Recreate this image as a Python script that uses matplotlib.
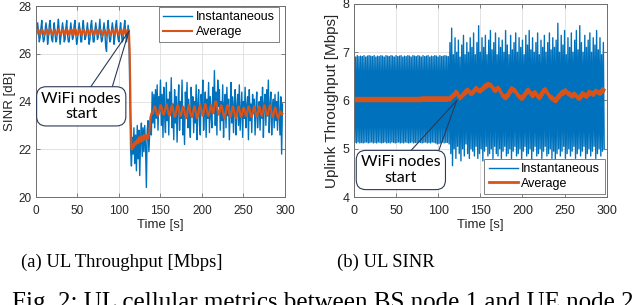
import numpy as np
import matplotlib
matplotlib.use("Agg")
import matplotlib.pyplot as plt

# ---- data (one sample per second) ----
# (a) left panel: SINR [dB]
sinr_inst = [
    26.6, 27.0, 27.3, 26.9, 26.5, 26.7, 27.1, 27.4, 26.8, 26.5,
    26.6, 27.0, 27.3, 27.0, 26.4, 26.7, 27.2, 27.4, 26.9, 26.6,
    26.5, 27.0, 27.3, 26.8, 26.5, 26.6, 27.1, 27.45, 26.9, 26.4,
    26.7, 27.0, 27.3, 27.0, 26.5, 26.6, 27.1, 27.4, 26.8, 26.5,
    26.5, 27.0, 27.3, 26.9, 26.6, 26.7, 27.2, 27.4, 26.8, 26.4,
    26.6, 27.0, 27.3, 27.0, 26.5, 26.5, 27.1, 27.4, 26.9, 26.6,
    26.7, 27.0, 27.3, 26.8, 26.4, 26.6, 27.2, 27.4, 26.9, 26.5,
    26.5, 27.0, 27.3, 27.0, 26.6, 26.7, 27.1, 27.45, 26.8, 26.5,
    26.6, 27.0, 27.3, 26.9, 26.3, 26.1, 27.1, 27.4, 26.8, 26.5,
    26.6, 27.0, 27.3, 27.0, 26.4, 26.7, 27.2, 27.4, 26.9, 26.6,
    26.5, 27.0, 27.3, 26.8, 26.5, 26.6, 27.1, 27.4, 26.9, 26.5,
    26.7, 27.2, 26.8, 24.5, 22.0, 21.3, 22.5, 21.8, 22.9, 21.4,
    22.6, 21.1, 23.0, 21.6, 22.8, 20.9, 22.4, 23.1, 21.7, 22.9,
    21.9, 23.0, 22.1, 20.4, 22.8, 23.2, 21.9, 22.7, 23.4, 22.6,
    24.4, 23.1, 24.3, 22.9, 24.5, 23.3, 24.7, 22.8, 24.2, 23.6,
    24.9, 23.0, 24.3, 22.5, 24.6, 23.4, 22.7, 24.8, 23.2, 24.1,
    22.6, 24.4, 23.5, 25.0, 22.9, 23.9, 22.4, 24.5, 23.1, 24.2,
    22.3, 23.8, 24.7, 22.8, 24.0, 23.3, 24.9, 22.6, 23.7, 22.2,
    24.4, 23.5, 24.8, 22.9, 24.1, 23.2, 22.5, 24.6, 23.4, 24.2,
    22.7, 24.0, 23.1, 24.7, 22.4, 23.9, 24.5, 23.0, 22.6, 24.3,
    23.6, 24.9, 22.8, 23.7, 24.4, 22.5, 24.1, 23.3, 24.8, 22.7,
    24.2, 23.4, 22.9, 24.6, 23.5, 25.3, 23.0, 24.4, 22.6, 24.9,
    23.8, 24.5, 22.8, 24.0, 23.2, 24.7, 22.5, 23.9, 24.3, 22.9,
    24.6, 23.4, 24.1, 22.4, 23.7, 24.8, 23.1, 24.2, 22.7, 23.9,
    24.5, 22.6, 23.8, 24.3, 23.0, 24.7, 22.8, 23.6, 24.4, 22.5,
    24.0, 23.3, 24.6, 22.9, 23.8, 24.2, 22.4, 24.5, 23.2, 23.9,
    22.7, 24.3, 23.5, 24.1, 22.6, 23.7, 24.4, 22.9, 23.6, 24.0,
    22.8, 24.2, 23.3, 24.6, 22.5, 23.9, 24.3, 23.0, 24.5, 23.4,
    24.9, 22.7, 23.8, 24.4, 22.6, 23.7, 24.1, 22.9, 24.3, 23.2,
    24.0, 22.8, 24.4, 23.5, 22.6, 24.2, 21.8, 23.9,
]
sinr_avg = [
    26.78, 26.88, 27.0, 27.02, 26.88, 26.78, 26.9, 27.02, 27.0, 26.86,
    26.78, 26.88, 27.0, 27.02, 26.86, 26.8, 26.9, 27.03, 27.0, 26.87,
    26.78, 26.88, 27.0, 27.01, 26.86, 26.79, 26.9, 27.03, 27.0, 26.86,
    26.78, 26.89, 27.0, 27.02, 26.87, 26.78, 26.9, 27.02, 27.0, 26.86,
    26.79, 26.88, 27.01, 27.02, 26.86, 26.78, 26.9, 27.03, 27.0, 26.87,
    26.78, 26.88, 27.0, 27.02, 26.86, 26.79, 26.9, 27.02, 27.0, 26.86,
    26.78, 26.89, 27.0, 27.01, 26.86, 26.78, 26.9, 27.03, 27.0, 26.87,
    26.78, 26.88, 27.0, 27.02, 26.86, 26.8, 26.9, 27.02, 27.0, 26.86,
    26.76, 26.86, 26.98, 27.0, 26.84, 26.76, 26.88, 27.02, 27.0, 26.86,
    26.78, 26.88, 27.0, 27.02, 26.87, 26.78, 26.9, 27.03, 27.0, 26.86,
    26.79, 26.88, 27.0, 27.02, 26.86, 26.78, 26.9, 27.02, 27.0, 26.87,
    26.8, 26.92, 27.0, 26.0, 23.6, 22.0, 22.0, 22.2, 22.1, 22.3,
    22.2, 22.35, 22.4, 22.25, 22.5, 22.45, 22.3, 22.55, 22.5, 22.35,
    22.6, 22.55, 22.4, 22.5, 22.6, 22.45, 22.6, 22.9, 23.3, 23.5,
    23.55, 23.5, 23.7, 23.8, 23.75, 23.6, 23.45, 23.4, 23.5, 23.7,
    23.85, 23.8, 23.65, 23.5, 23.45, 23.55, 23.75, 23.9, 23.8, 23.6,
    23.45, 23.4, 23.55, 23.75, 23.85, 23.7, 23.5, 23.35, 23.4, 23.6,
    23.8, 23.85, 23.7, 23.5, 23.4, 23.45, 23.65, 23.8, 23.75, 23.55,
    23.4, 23.3, 23.45, 23.7, 23.85, 23.75, 23.55, 23.4, 23.35, 23.5,
    23.7, 23.8, 23.65, 23.45, 23.3, 23.4, 23.6, 23.8, 23.85, 23.7,
    23.5, 23.4, 23.5, 23.75, 23.9, 23.8, 23.6, 23.45, 23.4, 23.55,
    23.75, 23.85, 23.7, 23.5, 23.55, 23.8, 24.0, 24.0, 23.85, 23.6,
    23.45, 23.5, 23.7, 23.85, 23.8, 23.6, 23.4, 23.3, 23.4, 23.6,
    23.8, 23.85, 23.7, 23.5, 23.35, 23.4, 23.6, 23.8, 23.75, 23.55,
    23.4, 23.3, 23.45, 23.65, 23.8, 23.7, 23.5, 23.35, 23.4, 23.6,
    23.75, 23.7, 23.5, 23.4, 23.45, 23.65, 23.8, 23.75, 23.55, 23.4,
    23.35, 23.5, 23.7, 23.8, 23.65, 23.45, 23.35, 23.45, 23.65, 23.8,
    23.7, 23.5, 23.4, 23.5, 23.7, 23.85, 23.8, 23.6, 23.45, 23.4,
    23.55, 23.75, 23.85, 23.7, 23.5, 23.35, 23.4, 23.6, 23.75, 23.7,
    23.5, 23.35, 23.3, 23.45, 23.6, 23.55, 23.45, 23.5,
]

# (b) right panel: uplink throughput [Mbps]
thr_inst = [
    6.92, 5.13, 6.90, 5.12, 6.93, 5.14, 6.91, 5.12, 6.92, 5.13,
    6.91, 5.12, 6.93, 5.13, 6.90, 5.14, 6.92, 5.12, 6.93, 5.13,
    6.92, 5.14, 6.91, 5.12, 6.93, 5.13, 6.90, 5.12, 6.92, 5.14,
    6.91, 5.13, 6.93, 5.12, 6.92, 5.13, 6.90, 5.14, 6.93, 5.12,
    6.92, 5.13, 6.91, 5.12, 6.93, 5.14, 6.92, 5.13, 6.90, 5.12,
    6.93, 5.13, 6.91, 5.14, 6.92, 5.12, 6.93, 5.13, 6.90, 5.12,
    6.92, 5.14, 6.91, 5.13, 6.93, 5.12, 6.92, 5.13, 6.90, 5.14,
    6.93, 5.12, 6.92, 5.13, 6.91, 5.12, 6.93, 5.14, 6.92, 5.13,
    6.90, 5.12, 6.93, 5.13, 6.91, 5.14, 6.92, 5.12, 6.93, 5.13,
    6.90, 5.12, 6.92, 5.14, 6.91, 5.13, 6.93, 5.12, 6.92, 5.10,
    6.90, 5.11, 6.93, 5.12, 6.91, 5.14, 6.92, 5.12, 6.93, 5.13,
    6.92, 5.13, 6.91, 5.10, 7.20, 4.90, 7.50, 4.65, 6.95, 5.00,
    7.30, 4.80, 7.00, 5.05, 7.25, 4.90, 6.90, 4.75, 7.15, 5.00,
    7.35, 4.85, 6.95, 5.10, 7.20, 4.90, 7.00, 4.80, 7.30, 5.00,
    7.10, 4.95, 7.40, 4.85, 6.95, 5.05, 7.20, 4.80, 7.55, 4.90,
    7.00, 5.00, 7.30, 4.75, 7.10, 4.95, 7.35, 5.05, 6.95, 4.85,
    7.25, 4.90, 7.45, 5.00, 7.05, 4.80, 7.20, 5.05, 7.40, 4.90,
    6.95, 4.85, 7.30, 5.00, 7.10, 4.80, 7.25, 4.95, 7.00, 5.05,
    7.45, 4.85, 7.15, 4.90, 6.95, 5.00, 7.35, 4.80, 7.05, 4.95,
    7.20, 5.05, 7.40, 4.85, 7.00, 4.90, 7.30, 5.00, 7.10, 4.80,
    7.25, 4.95, 6.95, 5.05, 7.35, 4.85, 7.15, 4.90, 7.45, 5.00,
    7.05, 4.75, 7.30, 4.95, 7.00, 5.05, 7.20, 4.85, 7.40, 4.90,
    6.95, 5.00, 7.25, 4.80, 7.10, 4.95, 7.35, 5.05, 7.00, 4.85,
    7.20, 4.90, 7.40, 5.00, 7.05, 4.80, 7.30, 4.95, 7.10, 4.75,
    7.25, 4.90, 7.60, 5.00, 7.00, 4.85, 7.35, 4.95, 7.15, 5.05,
    7.45, 4.80, 6.95, 4.90, 7.30, 5.00, 7.10, 4.85, 7.40, 4.95,
    7.00, 5.05, 7.25, 4.80, 7.45, 4.90, 7.05, 5.00, 7.55, 4.85,
    7.20, 4.95, 7.00, 5.05, 7.35, 4.80, 7.10, 4.90, 7.25, 5.00,
    7.40, 4.85, 7.00, 4.95, 7.30, 5.05, 7.15, 4.80, 7.45, 4.90,
    7.05, 5.00, 7.30, 4.85, 6.95, 4.95, 7.20, 5.00,
]
thr_avg = [
    6.05, 5.99, 6.05, 5.99, 6.05, 5.99, 6.05, 5.99, 6.05, 5.99,
    6.05, 5.99, 6.05, 5.99, 6.05, 5.99, 6.05, 5.99, 6.05, 5.99,
    6.05, 5.99, 6.05, 5.99, 6.05, 5.99, 6.05, 5.99, 6.05, 5.99,
    6.05, 5.99, 6.05, 5.99, 6.05, 5.99, 6.05, 5.99, 6.05, 5.99,
    6.05, 5.99, 6.05, 5.99, 6.05, 5.99, 6.05, 5.99, 6.05, 5.99,
    6.05, 5.99, 6.05, 5.99, 6.05, 5.99, 6.05, 5.99, 6.05, 5.99,
    6.05, 5.99, 6.05, 5.99, 6.05, 5.99, 6.05, 5.99, 6.05, 5.99,
    6.05, 5.99, 6.05, 5.99, 6.05, 5.99, 6.05, 5.99, 6.05, 5.99,
    6.06, 6.00, 6.06, 6.00, 6.06, 6.00, 6.06, 6.00, 6.06, 6.00,
    6.06, 6.00, 6.06, 6.00, 6.06, 6.00, 6.06, 6.00, 6.06, 6.00,
    6.06, 6.00, 6.06, 6.00, 6.06, 6.00, 6.06, 6.00, 6.06, 6.00,
    6.06, 6.00, 6.06, 6.05, 6.00, 6.09, 6.04, 6.12, 6.07, 6.15,
    6.10, 6.20, 6.14, 6.17, 6.08, 6.11, 6.03, 6.09, 6.06, 6.14,
    6.10, 6.18, 6.13, 6.22, 6.16, 6.24, 6.18, 6.20, 6.13, 6.17,
    6.12, 6.20, 6.15, 6.24, 6.19, 6.28, 6.22, 6.25, 6.18, 6.22,
    6.17, 6.24, 6.20, 6.28, 6.23, 6.32, 6.26, 6.34, 6.28, 6.36,
    6.30, 6.35, 6.29, 6.33, 6.26, 6.28, 6.20, 6.24, 6.18, 6.26,
    6.21, 6.28, 6.22, 6.24, 6.16, 6.17, 6.09, 6.12, 6.05, 6.10,
    6.03, 6.12, 6.06, 6.16, 6.10, 6.22, 6.16, 6.27, 6.20, 6.25,
    6.18, 6.23, 6.16, 6.18, 6.10, 6.13, 6.06, 6.10, 6.03, 6.08,
    6.02, 6.12, 6.06, 6.17, 6.11, 6.22, 6.15, 6.24, 6.17, 6.19,
    6.11, 6.14, 6.07, 6.17, 6.10, 6.19, 6.12, 6.14, 6.07, 6.10,
    6.03, 6.12, 6.06, 6.18, 6.12, 6.23, 6.17, 6.25, 6.18, 6.20,
    6.13, 6.14, 6.07, 6.10, 6.03, 6.08, 6.01, 6.05, 5.98, 6.04,
    5.97, 6.08, 6.02, 6.12, 6.06, 6.16, 6.10, 6.19, 6.12, 6.21,
    6.15, 6.23, 6.17, 6.19, 6.12, 6.17, 6.10, 6.14, 6.07, 6.13,
    6.07, 6.16, 6.10, 6.14, 6.07, 6.10, 6.03, 6.08, 6.02, 6.12,
    6.06, 6.17, 6.11, 6.15, 6.08, 6.12, 6.06, 6.15, 6.09, 6.20,
    6.13, 6.18, 6.12, 6.16, 6.10, 6.19, 6.13, 6.22, 6.16, 6.20,
    6.14, 6.18, 6.12, 6.21, 6.15, 6.25, 6.18, 6.22,
]

x_ticks = [0, 50, 100, 150, 200, 250, 300]
sinr_ticks = [20, 22, 24, 26, 28]
thr_ticks = [4, 5, 6, 7, 8]

BLUE = '#0072BD'
ORANGE = '#D95319'
TXT = '#262626'
EDGE = '#6e6e6e'
BOXEDGE = '#2b3a55'

plt.rcParams['font.family'] = ['Liberation Sans', 'DejaVu Sans']

fig = plt.figure(figsize=(6.4, 3.05), dpi=100)
ax1 = fig.add_axes([0.05625, 0.354, 0.389, 0.626])
ax2 = fig.add_axes([0.553, 0.354, 0.395, 0.633])


def style_axes(ax, yticks, tsize):
    ax.set_xlim(0, 300)
    ax.set_ylim(yticks[0], yticks[-1])
    ax.set_xticks(x_ticks)
    ax.set_yticks(yticks)
    ax.grid(True, color='#dedede', lw=0.6)
    ax.set_axisbelow(True)
    ax.tick_params(direction='in', length=3, width=0.6, top=True, right=True,
                   labelsize=tsize, labelcolor=TXT, color=EDGE)
    ax.tick_params(axis='x', pad=6)
    ax.tick_params(axis='y', pad=3)
    for sp in ax.spines.values():
        sp.set_color(EDGE)
        sp.set_linewidth(0.7)
    ax.set_xlabel('Time [s]', fontsize=9.5, color=TXT, labelpad=1)


def callout(ax, text, center, tip, bases):
    for b in bases:
        ax.annotate('', xy=tip, xytext=b,
                    arrowprops=dict(arrowstyle='-', color=BOXEDGE, lw=0.8,
                                    shrinkA=0, shrinkB=0))
    ax.text(center[0], center[1], text, ha='center', va='center',
            fontsize=11.5, family=['Lato', 'DejaVu Sans'], color='black',
            linespacing=1.15,
            bbox=dict(boxstyle='round,pad=0.3,rounding_size=0.6',
                      fc='white', ec=BOXEDGE, lw=0.8))


def add_legend(ax, loc, anchor):
    leg = ax.legend(loc=loc, bbox_to_anchor=anchor, borderaxespad=0,
                    fontsize=9, frameon=True, fancybox=False, framealpha=1,
                    edgecolor=EDGE, handlelength=2.3, handletextpad=0.3,
                    borderpad=0.35, labelspacing=0.2)
    leg.get_frame().set_linewidth(0.6)


# (a) SINR
ax1.plot(np.arange(len(sinr_inst)), sinr_inst, color=BLUE, lw=1.0, label='Instantaneous')
ax1.plot(np.arange(len(sinr_avg)), sinr_avg, color=ORANGE, lw=1.5, label='Average')
style_axes(ax1, sinr_ticks, 8.5)
ax1.set_ylabel('SINR [dB]', fontsize=9.5, color=TXT, labelpad=2)
callout(ax1, 'WiFi nodes\nstart', (54.5, 23.8), (112, 26.95),
        [(65, 24.57), (91.5, 24.57)])
add_legend(ax1, 'upper right', (0.976, 0.995))

# (b) throughput
ax2.plot(np.arange(len(thr_inst)), thr_inst, color=BLUE, lw=1.0, label='Instantaneous')
ax2.plot(np.arange(len(thr_avg)), thr_avg, color=ORANGE, lw=2.0, label='Average')
style_axes(ax2, thr_ticks, 9)
ax2.set_ylabel('Uplink Throughput [Mbps]', fontsize=11, color=TXT, labelpad=3)
callout(ax2, 'WiFi nodes\nstart', (55.7, 4.56), (122, 6.0),
        [(66, 4.93), (100, 4.93)])
add_legend(ax2, 'lower right', (0.992, 0.016))

# captions
serif = ['Liberation Serif', 'DejaVu Serif']
fig.text(0.19, 0.141, '(a) UL Throughput [Mbps]', ha='center', va='center',
         fontsize=13.4, family=serif)
fig.text(0.603, 0.141, '(b) UL SINR', ha='center', va='center',
         fontsize=13.4, family=serif)
fig.text(0.019, -0.014, 'Fig. 2: UL cellular metrics between BS node 1 and UE node 2',
         ha='left', va='baseline', fontsize=18, family=serif)

fig.savefig('out.png', dpi=100)
